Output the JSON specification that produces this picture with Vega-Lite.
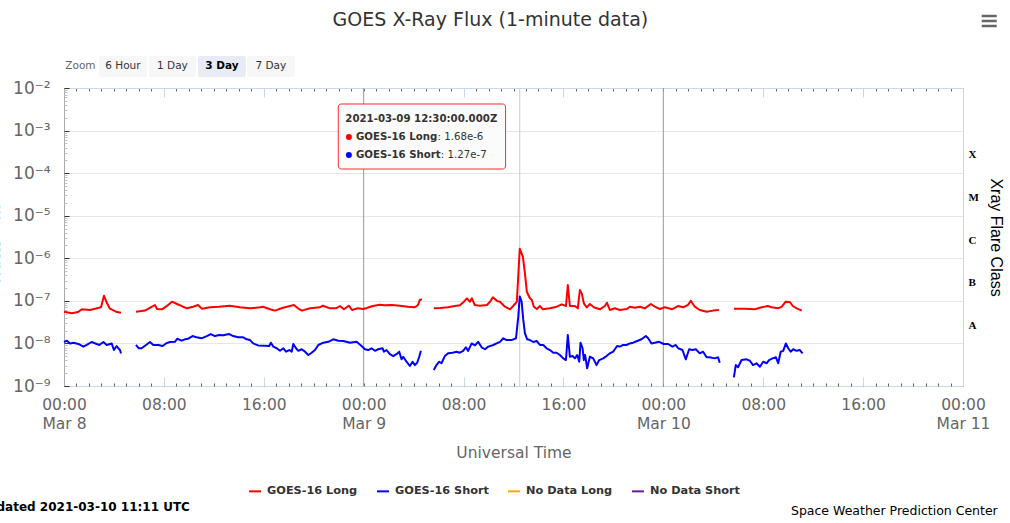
{
"$schema":"https://vega.github.io/schema/vega-lite/v6.json",
"autosize":{"type":"none"},
"width":899,"height":298,
"padding":{"left":64,"top":88,"right":47,"bottom":137},
"background":"#ffffff",
"config":{"view":{"stroke":null},"font":"DejaVu Sans"},
"datasets":{
"flux":[
{"t":"2021-03-08T00:00:00Z","flux":5.56e-8,"series":"GOES-16 Long","seg":1},
{"t":"2021-03-08T00:38:00Z","flux":5.10e-8,"series":"GOES-16 Long","seg":1},
{"t":"2021-03-08T01:07:00Z","flux":5.47e-8,"series":"GOES-16 Long","seg":1},
{"t":"2021-03-08T01:26:00Z","flux":6.33e-8,"series":"GOES-16 Long","seg":1},
{"t":"2021-03-08T02:05:00Z","flux":6.10e-8,"series":"GOES-16 Long","seg":1},
{"t":"2021-03-08T02:43:00Z","flux":6.80e-8,"series":"GOES-16 Long","seg":1},
{"t":"2021-03-08T02:58:00Z","flux":7.05e-8,"series":"GOES-16 Long","seg":1},
{"t":"2021-03-08T03:12:00Z","flux":1.32e-7,"series":"GOES-16 Long","seg":1},
{"t":"2021-03-08T03:27:00Z","flux":8.76e-8,"series":"GOES-16 Long","seg":1},
{"t":"2021-03-08T03:41:00Z","flux":6.54e-8,"series":"GOES-16 Long","seg":1},
{"t":"2021-03-08T04:10:00Z","flux":5.56e-8,"series":"GOES-16 Long","seg":1},
{"t":"2021-03-08T04:34:00Z","flux":5.27e-8,"series":"GOES-16 Long","seg":1},
{"t":"2021-03-08T05:46:00Z","flux":5.56e-8,"series":"GOES-16 Long","seg":2},
{"t":"2021-03-08T06:29:00Z","flux":5.90e-8,"series":"GOES-16 Long","seg":2},
{"t":"2021-03-08T07:03:00Z","flux":7.29e-8,"series":"GOES-16 Long","seg":2},
{"t":"2021-03-08T07:17:00Z","flux":7.99e-8,"series":"GOES-16 Long","seg":2},
{"t":"2021-03-08T07:27:00Z","flux":6.43e-8,"series":"GOES-16 Long","seg":2},
{"t":"2021-03-08T07:51:00Z","flux":6.33e-8,"series":"GOES-16 Long","seg":2},
{"t":"2021-03-08T08:10:00Z","flux":7.29e-8,"series":"GOES-16 Long","seg":2},
{"t":"2021-03-08T08:39:00Z","flux":9.55e-8,"series":"GOES-16 Long","seg":2},
{"t":"2021-03-08T09:03:00Z","flux":8.43e-8,"series":"GOES-16 Long","seg":2},
{"t":"2021-03-08T09:32:00Z","flux":7.29e-8,"series":"GOES-16 Long","seg":2},
{"t":"2021-03-08T09:51:00Z","flux":6.68e-8,"series":"GOES-16 Long","seg":2},
{"t":"2021-03-08T10:20:00Z","flux":7.29e-8,"series":"GOES-16 Long","seg":2},
{"t":"2021-03-08T10:44:00Z","flux":7.99e-8,"series":"GOES-16 Long","seg":2},
{"t":"2021-03-08T11:03:00Z","flux":6.54e-8,"series":"GOES-16 Long","seg":2},
{"t":"2021-03-08T11:41:00Z","flux":7.05e-8,"series":"GOES-16 Long","seg":2},
{"t":"2021-03-08T12:25:00Z","flux":7.29e-8,"series":"GOES-16 Long","seg":2},
{"t":"2021-03-08T13:17:00Z","flux":7.69e-8,"series":"GOES-16 Long","seg":2},
{"t":"2021-03-08T14:05:00Z","flux":7.05e-8,"series":"GOES-16 Long","seg":2},
{"t":"2021-03-08T14:54:00Z","flux":6.68e-8,"series":"GOES-16 Long","seg":2},
{"t":"2021-03-08T15:42:00Z","flux":7.05e-8,"series":"GOES-16 Long","seg":2},
{"t":"2021-03-08T15:56:00Z","flux":7.29e-8,"series":"GOES-16 Long","seg":2},
{"t":"2021-03-08T16:30:00Z","flux":6.33e-8,"series":"GOES-16 Long","seg":2},
{"t":"2021-03-08T16:54:00Z","flux":5.90e-8,"series":"GOES-16 Long","seg":2},
{"t":"2021-03-08T17:32:00Z","flux":6.90e-8,"series":"GOES-16 Long","seg":2},
{"t":"2021-03-08T18:25:00Z","flux":7.99e-8,"series":"GOES-16 Long","seg":2},
{"t":"2021-03-08T18:44:00Z","flux":6.68e-8,"series":"GOES-16 Long","seg":2},
{"t":"2021-03-08T19:03:00Z","flux":5.90e-8,"series":"GOES-16 Long","seg":2},
{"t":"2021-03-08T19:42:00Z","flux":6.68e-8,"series":"GOES-16 Long","seg":2},
{"t":"2021-03-08T20:30:00Z","flux":7.05e-8,"series":"GOES-16 Long","seg":2},
{"t":"2021-03-08T20:44:00Z","flux":7.69e-8,"series":"GOES-16 Long","seg":2},
{"t":"2021-03-08T21:18:00Z","flux":6.68e-8,"series":"GOES-16 Long","seg":2},
{"t":"2021-03-08T21:47:00Z","flux":6.68e-8,"series":"GOES-16 Long","seg":2},
{"t":"2021-03-08T22:06:00Z","flux":7.57e-8,"series":"GOES-16 Long","seg":2},
{"t":"2021-03-08T22:25:00Z","flux":6.33e-8,"series":"GOES-16 Long","seg":2},
{"t":"2021-03-08T22:49:00Z","flux":7.69e-8,"series":"GOES-16 Long","seg":2},
{"t":"2021-03-08T23:04:00Z","flux":6.10e-8,"series":"GOES-16 Long","seg":2},
{"t":"2021-03-08T23:32:00Z","flux":6.68e-8,"series":"GOES-16 Long","seg":2},
{"t":"2021-03-08T23:56:00Z","flux":6.43e-8,"series":"GOES-16 Long","seg":2},
{"t":"2021-03-09T00:11:00Z","flux":6.68e-8,"series":"GOES-16 Long","seg":2},
{"t":"2021-03-09T00:44:00Z","flux":7.57e-8,"series":"GOES-16 Long","seg":2},
{"t":"2021-03-09T01:18:00Z","flux":8.12e-8,"series":"GOES-16 Long","seg":2},
{"t":"2021-03-09T01:42:00Z","flux":7.90e-8,"series":"GOES-16 Long","seg":2},
{"t":"2021-03-09T02:16:00Z","flux":7.99e-8,"series":"GOES-16 Long","seg":2},
{"t":"2021-03-09T02:54:00Z","flux":7.69e-8,"series":"GOES-16 Long","seg":2},
{"t":"2021-03-09T03:33:00Z","flux":7.29e-8,"series":"GOES-16 Long","seg":2},
{"t":"2021-03-09T04:06:00Z","flux":7.05e-8,"series":"GOES-16 Long","seg":2},
{"t":"2021-03-09T04:21:00Z","flux":7.99e-8,"series":"GOES-16 Long","seg":2},
{"t":"2021-03-09T04:30:00Z","flux":1.05e-7,"series":"GOES-16 Long","seg":2},
{"t":"2021-03-09T04:40:00Z","flux":1.10e-7,"series":"GOES-16 Long","seg":2},
{"t":"2021-03-09T05:37:00Z","flux":6.68e-8,"series":"GOES-16 Long","seg":3},
{"t":"2021-03-09T06:06:00Z","flux":6.80e-8,"series":"GOES-16 Long","seg":3},
{"t":"2021-03-09T06:45:00Z","flux":7.05e-8,"series":"GOES-16 Long","seg":3},
{"t":"2021-03-09T07:18:00Z","flux":7.57e-8,"series":"GOES-16 Long","seg":3},
{"t":"2021-03-09T07:42:00Z","flux":7.90e-8,"series":"GOES-16 Long","seg":3},
{"t":"2021-03-09T08:02:00Z","flux":9.55e-8,"series":"GOES-16 Long","seg":3},
{"t":"2021-03-09T08:16:00Z","flux":1.15e-7,"series":"GOES-16 Long","seg":3},
{"t":"2021-03-09T08:30:00Z","flux":9.55e-8,"series":"GOES-16 Long","seg":3},
{"t":"2021-03-09T08:40:00Z","flux":1.15e-7,"series":"GOES-16 Long","seg":3},
{"t":"2021-03-09T08:54:00Z","flux":7.99e-8,"series":"GOES-16 Long","seg":3},
{"t":"2021-03-09T09:18:00Z","flux":7.69e-8,"series":"GOES-16 Long","seg":3},
{"t":"2021-03-09T09:52:00Z","flux":7.99e-8,"series":"GOES-16 Long","seg":3},
{"t":"2021-03-09T10:07:00Z","flux":9.55e-8,"series":"GOES-16 Long","seg":3},
{"t":"2021-03-09T10:21:00Z","flux":1.21e-7,"series":"GOES-16 Long","seg":3},
{"t":"2021-03-09T10:40:00Z","flux":1.00e-7,"series":"GOES-16 Long","seg":3},
{"t":"2021-03-09T10:55:00Z","flux":9.55e-8,"series":"GOES-16 Long","seg":3},
{"t":"2021-03-09T11:19:00Z","flux":7.29e-8,"series":"GOES-16 Long","seg":3},
{"t":"2021-03-09T11:43:00Z","flux":6.33e-8,"series":"GOES-16 Long","seg":3},
{"t":"2021-03-09T12:07:00Z","flux":8.43e-8,"series":"GOES-16 Long","seg":3},
{"t":"2021-03-09T12:16:00Z","flux":9.55e-8,"series":"GOES-16 Long","seg":3},
{"t":"2021-03-09T12:30:00Z","flux":1.68e-6,"series":"GOES-16 Long","seg":3},
{"t":"2021-03-09T12:45:00Z","flux":1.09e-6,"series":"GOES-16 Long","seg":3},
{"t":"2021-03-09T12:55:00Z","flux":4.44e-7,"series":"GOES-16 Long","seg":3},
{"t":"2021-03-09T13:04:00Z","flux":1.64e-7,"series":"GOES-16 Long","seg":3},
{"t":"2021-03-09T13:19:00Z","flux":1.15e-7,"series":"GOES-16 Long","seg":3},
{"t":"2021-03-09T13:28:00Z","flux":1.05e-7,"series":"GOES-16 Long","seg":3},
{"t":"2021-03-09T13:38:00Z","flux":7.29e-8,"series":"GOES-16 Long","seg":3},
{"t":"2021-03-09T13:52:00Z","flux":6.43e-8,"series":"GOES-16 Long","seg":3},
{"t":"2021-03-09T14:07:00Z","flux":7.57e-8,"series":"GOES-16 Long","seg":3},
{"t":"2021-03-09T14:21:00Z","flux":6.33e-8,"series":"GOES-16 Long","seg":3},
{"t":"2021-03-09T14:55:00Z","flux":6.68e-8,"series":"GOES-16 Long","seg":3},
{"t":"2021-03-09T15:28:00Z","flux":7.29e-8,"series":"GOES-16 Long","seg":3},
{"t":"2021-03-09T15:52:00Z","flux":8.30e-8,"series":"GOES-16 Long","seg":3},
{"t":"2021-03-09T16:12:00Z","flux":7.57e-8,"series":"GOES-16 Long","seg":3},
{"t":"2021-03-09T16:21:00Z","flux":2.36e-7,"series":"GOES-16 Long","seg":3},
{"t":"2021-03-09T16:31:00Z","flux":7.57e-8,"series":"GOES-16 Long","seg":3},
{"t":"2021-03-09T16:55:00Z","flux":7.57e-8,"series":"GOES-16 Long","seg":3},
{"t":"2021-03-09T17:09:00Z","flux":6.68e-8,"series":"GOES-16 Long","seg":3},
{"t":"2021-03-09T17:19:00Z","flux":1.80e-7,"series":"GOES-16 Long","seg":3},
{"t":"2021-03-09T17:28:00Z","flux":1.50e-7,"series":"GOES-16 Long","seg":3},
{"t":"2021-03-09T17:38:00Z","flux":8.76e-8,"series":"GOES-16 Long","seg":3},
{"t":"2021-03-09T17:52:00Z","flux":7.05e-8,"series":"GOES-16 Long","seg":3},
{"t":"2021-03-09T18:07:00Z","flux":8.43e-8,"series":"GOES-16 Long","seg":3},
{"t":"2021-03-09T18:26:00Z","flux":7.05e-8,"series":"GOES-16 Long","seg":3},
{"t":"2021-03-09T18:55:00Z","flux":6.33e-8,"series":"GOES-16 Long","seg":3},
{"t":"2021-03-09T19:19:00Z","flux":7.57e-8,"series":"GOES-16 Long","seg":3},
{"t":"2021-03-09T19:29:00Z","flux":9.05e-8,"series":"GOES-16 Long","seg":3},
{"t":"2021-03-09T19:43:00Z","flux":6.10e-8,"series":"GOES-16 Long","seg":3},
{"t":"2021-03-09T20:07:00Z","flux":6.68e-8,"series":"GOES-16 Long","seg":3},
{"t":"2021-03-09T20:31:00Z","flux":6.10e-8,"series":"GOES-16 Long","seg":3},
{"t":"2021-03-09T21:05:00Z","flux":6.43e-8,"series":"GOES-16 Long","seg":3},
{"t":"2021-03-09T21:19:00Z","flux":7.29e-8,"series":"GOES-16 Long","seg":3},
{"t":"2021-03-09T21:43:00Z","flux":6.90e-8,"series":"GOES-16 Long","seg":3},
{"t":"2021-03-09T22:07:00Z","flux":7.29e-8,"series":"GOES-16 Long","seg":3},
{"t":"2021-03-09T22:31:00Z","flux":6.68e-8,"series":"GOES-16 Long","seg":3},
{"t":"2021-03-09T23:00:00Z","flux":8.43e-8,"series":"GOES-16 Long","seg":3},
{"t":"2021-03-09T23:19:00Z","flux":7.29e-8,"series":"GOES-16 Long","seg":3},
{"t":"2021-03-09T23:43:00Z","flux":6.43e-8,"series":"GOES-16 Long","seg":3},
{"t":"2021-03-10T00:07:00Z","flux":7.05e-8,"series":"GOES-16 Long","seg":3},
{"t":"2021-03-10T00:41:00Z","flux":6.33e-8,"series":"GOES-16 Long","seg":3},
{"t":"2021-03-10T01:10:00Z","flux":7.57e-8,"series":"GOES-16 Long","seg":3},
{"t":"2021-03-10T01:34:00Z","flux":7.05e-8,"series":"GOES-16 Long","seg":3},
{"t":"2021-03-10T01:58:00Z","flux":7.99e-8,"series":"GOES-16 Long","seg":3},
{"t":"2021-03-10T02:12:00Z","flux":1.00e-7,"series":"GOES-16 Long","seg":3},
{"t":"2021-03-10T02:31:00Z","flux":7.29e-8,"series":"GOES-16 Long","seg":3},
{"t":"2021-03-10T02:55:00Z","flux":6.10e-8,"series":"GOES-16 Long","seg":3},
{"t":"2021-03-10T03:29:00Z","flux":5.56e-8,"series":"GOES-16 Long","seg":3},
{"t":"2021-03-10T03:58:00Z","flux":5.90e-8,"series":"GOES-16 Long","seg":3},
{"t":"2021-03-10T04:27:00Z","flux":6.10e-8,"series":"GOES-16 Long","seg":3},
{"t":"2021-03-10T05:39:00Z","flux":6.54e-8,"series":"GOES-16 Long","seg":4},
{"t":"2021-03-10T06:32:00Z","flux":6.54e-8,"series":"GOES-16 Long","seg":4},
{"t":"2021-03-10T07:20:00Z","flux":6.33e-8,"series":"GOES-16 Long","seg":4},
{"t":"2021-03-10T07:53:00Z","flux":7.05e-8,"series":"GOES-16 Long","seg":4},
{"t":"2021-03-10T08:22:00Z","flux":7.57e-8,"series":"GOES-16 Long","seg":4},
{"t":"2021-03-10T08:41:00Z","flux":7.05e-8,"series":"GOES-16 Long","seg":4},
{"t":"2021-03-10T09:10:00Z","flux":6.68e-8,"series":"GOES-16 Long","seg":4},
{"t":"2021-03-10T09:29:00Z","flux":7.29e-8,"series":"GOES-16 Long","seg":4},
{"t":"2021-03-10T09:48:00Z","flux":9.55e-8,"series":"GOES-16 Long","seg":4},
{"t":"2021-03-10T10:08:00Z","flux":9.40e-8,"series":"GOES-16 Long","seg":4},
{"t":"2021-03-10T10:22:00Z","flux":7.57e-8,"series":"GOES-16 Long","seg":4},
{"t":"2021-03-10T10:41:00Z","flux":6.68e-8,"series":"GOES-16 Long","seg":4},
{"t":"2021-03-10T11:05:00Z","flux":5.90e-8,"series":"GOES-16 Long","seg":4},
{"t":"2021-03-08T00:00:00Z","flux":1.08e-8,"series":"GOES-16 Short","seg":1},
{"t":"2021-03-08T00:14:00Z","flux":1.16e-8,"series":"GOES-16 Short","seg":1},
{"t":"2021-03-08T00:29:00Z","flux":1.00e-8,"series":"GOES-16 Short","seg":1},
{"t":"2021-03-08T00:45:00Z","flux":1.04e-8,"series":"GOES-16 Short","seg":1},
{"t":"2021-03-08T01:09:00Z","flux":9.7e-9,"series":"GOES-16 Short","seg":1},
{"t":"2021-03-08T01:33:00Z","flux":8.4e-9,"series":"GOES-16 Short","seg":1},
{"t":"2021-03-08T01:49:00Z","flux":9.2e-9,"series":"GOES-16 Short","seg":1},
{"t":"2021-03-08T02:13:00Z","flux":1.08e-8,"series":"GOES-16 Short","seg":1},
{"t":"2021-03-08T02:37:00Z","flux":9.7e-9,"series":"GOES-16 Short","seg":1},
{"t":"2021-03-08T02:50:00Z","flux":9.2e-9,"series":"GOES-16 Short","seg":1},
{"t":"2021-03-08T03:09:00Z","flux":1.08e-8,"series":"GOES-16 Short","seg":1},
{"t":"2021-03-08T03:25:00Z","flux":9.2e-9,"series":"GOES-16 Short","seg":1},
{"t":"2021-03-08T03:49:00Z","flux":1.00e-8,"series":"GOES-16 Short","seg":1},
{"t":"2021-03-08T04:00:00Z","flux":7.0e-9,"series":"GOES-16 Short","seg":1},
{"t":"2021-03-08T04:13:00Z","flux":8.7e-9,"series":"GOES-16 Short","seg":1},
{"t":"2021-03-08T04:21:00Z","flux":7.7e-9,"series":"GOES-16 Short","seg":1},
{"t":"2021-03-08T04:29:00Z","flux":7.0e-9,"series":"GOES-16 Short","seg":1},
{"t":"2021-03-08T04:34:00Z","flux":5.85e-9,"series":"GOES-16 Short","seg":1},
{"t":"2021-03-08T05:46:00Z","flux":9.2e-9,"series":"GOES-16 Short","seg":2},
{"t":"2021-03-08T05:59:00Z","flux":7.7e-9,"series":"GOES-16 Short","seg":2},
{"t":"2021-03-08T06:13:00Z","flux":7.7e-9,"series":"GOES-16 Short","seg":2},
{"t":"2021-03-08T06:34:00Z","flux":9.2e-9,"series":"GOES-16 Short","seg":2},
{"t":"2021-03-08T06:53:00Z","flux":1.08e-8,"series":"GOES-16 Short","seg":2},
{"t":"2021-03-08T07:09:00Z","flux":9.2e-9,"series":"GOES-16 Short","seg":2},
{"t":"2021-03-08T07:33:00Z","flux":9.2e-9,"series":"GOES-16 Short","seg":2},
{"t":"2021-03-08T07:54:00Z","flux":8.7e-9,"series":"GOES-16 Short","seg":2},
{"t":"2021-03-08T08:10:00Z","flux":1.00e-8,"series":"GOES-16 Short","seg":2},
{"t":"2021-03-08T08:29:00Z","flux":1.08e-8,"series":"GOES-16 Short","seg":2},
{"t":"2021-03-08T08:53:00Z","flux":1.09e-8,"series":"GOES-16 Short","seg":2},
{"t":"2021-03-08T09:04:00Z","flux":1.29e-8,"series":"GOES-16 Short","seg":2},
{"t":"2021-03-08T09:25:00Z","flux":1.16e-8,"series":"GOES-16 Short","seg":2},
{"t":"2021-03-08T09:41:00Z","flux":1.25e-8,"series":"GOES-16 Short","seg":2},
{"t":"2021-03-08T09:57:00Z","flux":1.29e-8,"series":"GOES-16 Short","seg":2},
{"t":"2021-03-08T10:18:00Z","flux":1.49e-8,"series":"GOES-16 Short","seg":2},
{"t":"2021-03-08T10:37:00Z","flux":1.39e-8,"series":"GOES-16 Short","seg":2},
{"t":"2021-03-08T11:01:00Z","flux":1.32e-8,"series":"GOES-16 Short","seg":2},
{"t":"2021-03-08T11:26:00Z","flux":1.49e-8,"series":"GOES-16 Short","seg":2},
{"t":"2021-03-08T11:45:00Z","flux":1.66e-8,"series":"GOES-16 Short","seg":2},
{"t":"2021-03-08T12:05:00Z","flux":1.49e-8,"series":"GOES-16 Short","seg":2},
{"t":"2021-03-08T12:26:00Z","flux":1.57e-8,"series":"GOES-16 Short","seg":2},
{"t":"2021-03-08T12:45:00Z","flux":1.55e-8,"series":"GOES-16 Short","seg":2},
{"t":"2021-03-08T13:14:00Z","flux":1.66e-8,"series":"GOES-16 Short","seg":2},
{"t":"2021-03-08T13:33:00Z","flux":1.49e-8,"series":"GOES-16 Short","seg":2},
{"t":"2021-03-08T13:57:00Z","flux":1.39e-8,"series":"GOES-16 Short","seg":2},
{"t":"2021-03-08T14:21:00Z","flux":1.39e-8,"series":"GOES-16 Short","seg":2},
{"t":"2021-03-08T14:38:00Z","flux":1.25e-8,"series":"GOES-16 Short","seg":2},
{"t":"2021-03-08T14:54:00Z","flux":1.20e-8,"series":"GOES-16 Short","seg":2},
{"t":"2021-03-08T15:09:00Z","flux":1.00e-8,"series":"GOES-16 Short","seg":2},
{"t":"2021-03-08T15:33:00Z","flux":9.0e-9,"series":"GOES-16 Short","seg":2},
{"t":"2021-03-08T16:06:00Z","flux":8.8e-9,"series":"GOES-16 Short","seg":2},
{"t":"2021-03-08T16:26:00Z","flux":8.7e-9,"series":"GOES-16 Short","seg":2},
{"t":"2021-03-08T16:34:00Z","flux":1.04e-8,"series":"GOES-16 Short","seg":2},
{"t":"2021-03-08T16:46:00Z","flux":8.4e-9,"series":"GOES-16 Short","seg":2},
{"t":"2021-03-08T17:02:00Z","flux":7.7e-9,"series":"GOES-16 Short","seg":2},
{"t":"2021-03-08T17:18:00Z","flux":6.7e-9,"series":"GOES-16 Short","seg":2},
{"t":"2021-03-08T17:34:00Z","flux":7.7e-9,"series":"GOES-16 Short","seg":2},
{"t":"2021-03-08T17:47:00Z","flux":6.4e-9,"series":"GOES-16 Short","seg":2},
{"t":"2021-03-08T18:03:00Z","flux":7.0e-9,"series":"GOES-16 Short","seg":2},
{"t":"2021-03-08T18:14:00Z","flux":6.4e-9,"series":"GOES-16 Short","seg":2},
{"t":"2021-03-08T18:22:00Z","flux":9.7e-9,"series":"GOES-16 Short","seg":2},
{"t":"2021-03-08T18:35:00Z","flux":7.7e-9,"series":"GOES-16 Short","seg":2},
{"t":"2021-03-08T18:46:00Z","flux":6.7e-9,"series":"GOES-16 Short","seg":2},
{"t":"2021-03-08T19:02:00Z","flux":7.3e-9,"series":"GOES-16 Short","seg":2},
{"t":"2021-03-08T19:18:00Z","flux":6.4e-9,"series":"GOES-16 Short","seg":2},
{"t":"2021-03-08T19:34:00Z","flux":5.35e-9,"series":"GOES-16 Short","seg":2},
{"t":"2021-03-08T19:50:00Z","flux":6.05e-9,"series":"GOES-16 Short","seg":2},
{"t":"2021-03-08T20:06:00Z","flux":7.0e-9,"series":"GOES-16 Short","seg":2},
{"t":"2021-03-08T20:22:00Z","flux":9.2e-9,"series":"GOES-16 Short","seg":2},
{"t":"2021-03-08T20:46:00Z","flux":1.04e-8,"series":"GOES-16 Short","seg":2},
{"t":"2021-03-08T21:10:00Z","flux":1.09e-8,"series":"GOES-16 Short","seg":2},
{"t":"2021-03-08T21:34:00Z","flux":1.25e-8,"series":"GOES-16 Short","seg":2},
{"t":"2021-03-08T21:58:00Z","flux":1.16e-8,"series":"GOES-16 Short","seg":2},
{"t":"2021-03-08T22:22:00Z","flux":1.14e-8,"series":"GOES-16 Short","seg":2},
{"t":"2021-03-08T22:54:00Z","flux":1.04e-8,"series":"GOES-16 Short","seg":2},
{"t":"2021-03-08T23:26:00Z","flux":1.09e-8,"series":"GOES-16 Short","seg":2},
{"t":"2021-03-08T23:50:00Z","flux":8.7e-9,"series":"GOES-16 Short","seg":2},
{"t":"2021-03-09T00:06:00Z","flux":7.3e-9,"series":"GOES-16 Short","seg":2},
{"t":"2021-03-09T00:22:00Z","flux":7.0e-9,"series":"GOES-16 Short","seg":2},
{"t":"2021-03-09T00:38:00Z","flux":7.7e-9,"series":"GOES-16 Short","seg":2},
{"t":"2021-03-09T00:54:00Z","flux":6.7e-9,"series":"GOES-16 Short","seg":2},
{"t":"2021-03-09T01:10:00Z","flux":7.3e-9,"series":"GOES-16 Short","seg":2},
{"t":"2021-03-09T01:31:00Z","flux":7.7e-9,"series":"GOES-16 Short","seg":2},
{"t":"2021-03-09T01:37:00Z","flux":6.4e-9,"series":"GOES-16 Short","seg":2},
{"t":"2021-03-09T01:50:00Z","flux":7.0e-9,"series":"GOES-16 Short","seg":2},
{"t":"2021-03-09T02:06:00Z","flux":5.6e-9,"series":"GOES-16 Short","seg":2},
{"t":"2021-03-09T02:22:00Z","flux":5.05e-9,"series":"GOES-16 Short","seg":2},
{"t":"2021-03-09T02:38:00Z","flux":5.6e-9,"series":"GOES-16 Short","seg":2},
{"t":"2021-03-09T02:51:00Z","flux":6.4e-9,"series":"GOES-16 Short","seg":2},
{"t":"2021-03-09T03:02:00Z","flux":4.23e-9,"series":"GOES-16 Short","seg":2},
{"t":"2021-03-09T03:10:00Z","flux":4.87e-9,"series":"GOES-16 Short","seg":2},
{"t":"2021-03-09T03:26:00Z","flux":3.72e-9,"series":"GOES-16 Short","seg":2},
{"t":"2021-03-09T03:42:00Z","flux":2.95e-9,"series":"GOES-16 Short","seg":2},
{"t":"2021-03-09T03:55:00Z","flux":3.72e-9,"series":"GOES-16 Short","seg":2},
{"t":"2021-03-09T04:06:00Z","flux":3.10e-9,"series":"GOES-16 Short","seg":2},
{"t":"2021-03-09T04:17:00Z","flux":3.52e-9,"series":"GOES-16 Short","seg":2},
{"t":"2021-03-09T04:27:00Z","flux":4.87e-9,"series":"GOES-16 Short","seg":2},
{"t":"2021-03-09T04:35:00Z","flux":6.7e-9,"series":"GOES-16 Short","seg":2},
{"t":"2021-03-09T05:37:00Z","flux":2.37e-9,"series":"GOES-16 Short","seg":3},
{"t":"2021-03-09T05:50:00Z","flux":3.10e-9,"series":"GOES-16 Short","seg":3},
{"t":"2021-03-09T06:03:00Z","flux":3.72e-9,"series":"GOES-16 Short","seg":3},
{"t":"2021-03-09T06:14:00Z","flux":3.42e-9,"series":"GOES-16 Short","seg":3},
{"t":"2021-03-09T06:30:00Z","flux":5.05e-9,"series":"GOES-16 Short","seg":3},
{"t":"2021-03-09T06:46:00Z","flux":5.85e-9,"series":"GOES-16 Short","seg":3},
{"t":"2021-03-09T07:07:00Z","flux":6.05e-9,"series":"GOES-16 Short","seg":3},
{"t":"2021-03-09T07:27:00Z","flux":6.4e-9,"series":"GOES-16 Short","seg":3},
{"t":"2021-03-09T07:42:00Z","flux":6.05e-9,"series":"GOES-16 Short","seg":3},
{"t":"2021-03-09T07:58:00Z","flux":6.7e-9,"series":"GOES-16 Short","seg":3},
{"t":"2021-03-09T08:11:00Z","flux":8.1e-9,"series":"GOES-16 Short","seg":3},
{"t":"2021-03-09T08:22:00Z","flux":6.7e-9,"series":"GOES-16 Short","seg":3},
{"t":"2021-03-09T08:39:00Z","flux":1.00e-8,"series":"GOES-16 Short","seg":3},
{"t":"2021-03-09T08:55:00Z","flux":9.0e-9,"series":"GOES-16 Short","seg":3},
{"t":"2021-03-09T09:10:00Z","flux":1.09e-8,"series":"GOES-16 Short","seg":3},
{"t":"2021-03-09T09:27:00Z","flux":8.1e-9,"series":"GOES-16 Short","seg":3},
{"t":"2021-03-09T09:43:00Z","flux":7.3e-9,"series":"GOES-16 Short","seg":3},
{"t":"2021-03-09T09:59:00Z","flux":8.4e-9,"series":"GOES-16 Short","seg":3},
{"t":"2021-03-09T10:23:00Z","flux":9.2e-9,"series":"GOES-16 Short","seg":3},
{"t":"2021-03-09T10:39:00Z","flux":1.00e-8,"series":"GOES-16 Short","seg":3},
{"t":"2021-03-09T10:55:00Z","flux":1.09e-8,"series":"GOES-16 Short","seg":3},
{"t":"2021-03-09T11:11:00Z","flux":1.32e-8,"series":"GOES-16 Short","seg":3},
{"t":"2021-03-09T11:27:00Z","flux":1.20e-8,"series":"GOES-16 Short","seg":3},
{"t":"2021-03-09T11:51:00Z","flux":1.20e-8,"series":"GOES-16 Short","seg":3},
{"t":"2021-03-09T12:12:00Z","flux":1.32e-8,"series":"GOES-16 Short","seg":3},
{"t":"2021-03-09T12:23:00Z","flux":4.25e-8,"series":"GOES-16 Short","seg":3},
{"t":"2021-03-09T12:30:00Z","flux":1.27e-7,"series":"GOES-16 Short","seg":3},
{"t":"2021-03-09T12:39:00Z","flux":9.55e-8,"series":"GOES-16 Short","seg":3},
{"t":"2021-03-09T12:47:00Z","flux":3.56e-8,"series":"GOES-16 Short","seg":3},
{"t":"2021-03-09T12:55:00Z","flux":1.73e-8,"series":"GOES-16 Short","seg":3},
{"t":"2021-03-09T13:06:00Z","flux":1.25e-8,"series":"GOES-16 Short","seg":3},
{"t":"2021-03-09T13:19:00Z","flux":1.20e-8,"series":"GOES-16 Short","seg":3},
{"t":"2021-03-09T13:35:00Z","flux":1.08e-8,"series":"GOES-16 Short","seg":3},
{"t":"2021-03-09T13:51:00Z","flux":1.14e-8,"series":"GOES-16 Short","seg":3},
{"t":"2021-03-09T14:07:00Z","flux":9.2e-9,"series":"GOES-16 Short","seg":3},
{"t":"2021-03-09T14:23:00Z","flux":9.2e-9,"series":"GOES-16 Short","seg":3},
{"t":"2021-03-09T14:39:00Z","flux":7.7e-9,"series":"GOES-16 Short","seg":3},
{"t":"2021-03-09T14:55:00Z","flux":7.0e-9,"series":"GOES-16 Short","seg":3},
{"t":"2021-03-09T15:11:00Z","flux":6.05e-9,"series":"GOES-16 Short","seg":3},
{"t":"2021-03-09T15:27:00Z","flux":6.05e-9,"series":"GOES-16 Short","seg":3},
{"t":"2021-03-09T15:43:00Z","flux":5.35e-9,"series":"GOES-16 Short","seg":3},
{"t":"2021-03-09T15:59:00Z","flux":4.46e-9,"series":"GOES-16 Short","seg":3},
{"t":"2021-03-09T16:12:00Z","flux":4.07e-9,"series":"GOES-16 Short","seg":3},
{"t":"2021-03-09T16:21:00Z","flux":1.57e-8,"series":"GOES-16 Short","seg":3},
{"t":"2021-03-09T16:31:00Z","flux":4.87e-9,"series":"GOES-16 Short","seg":3},
{"t":"2021-03-09T16:44:00Z","flux":5.05e-9,"series":"GOES-16 Short","seg":3},
{"t":"2021-03-09T16:55:00Z","flux":4.46e-9,"series":"GOES-16 Short","seg":3},
{"t":"2021-03-09T17:06:00Z","flux":5.35e-9,"series":"GOES-16 Short","seg":3},
{"t":"2021-03-09T17:16:00Z","flux":3.72e-9,"series":"GOES-16 Short","seg":3},
{"t":"2021-03-09T17:22:00Z","flux":1.04e-8,"series":"GOES-16 Short","seg":3},
{"t":"2021-03-09T17:32:00Z","flux":7.7e-9,"series":"GOES-16 Short","seg":3},
{"t":"2021-03-09T17:38:00Z","flux":4.07e-9,"series":"GOES-16 Short","seg":3},
{"t":"2021-03-09T17:44:00Z","flux":5.35e-9,"series":"GOES-16 Short","seg":3},
{"t":"2021-03-09T17:54:00Z","flux":2.60e-9,"series":"GOES-16 Short","seg":3},
{"t":"2021-03-09T18:07:00Z","flux":4.87e-9,"series":"GOES-16 Short","seg":3},
{"t":"2021-03-09T18:23:00Z","flux":4.46e-9,"series":"GOES-16 Short","seg":3},
{"t":"2021-03-09T18:39:00Z","flux":3.10e-9,"series":"GOES-16 Short","seg":3},
{"t":"2021-03-09T18:52:00Z","flux":4.07e-9,"series":"GOES-16 Short","seg":3},
{"t":"2021-03-09T19:11:00Z","flux":4.46e-9,"series":"GOES-16 Short","seg":3},
{"t":"2021-03-09T19:27:00Z","flux":5.05e-9,"series":"GOES-16 Short","seg":3},
{"t":"2021-03-09T19:43:00Z","flux":5.85e-9,"series":"GOES-16 Short","seg":3},
{"t":"2021-03-09T19:59:00Z","flux":6.4e-9,"series":"GOES-16 Short","seg":3},
{"t":"2021-03-09T20:18:00Z","flux":8.7e-9,"series":"GOES-16 Short","seg":3},
{"t":"2021-03-09T20:31:00Z","flux":8.4e-9,"series":"GOES-16 Short","seg":3},
{"t":"2021-03-09T20:47:00Z","flux":9.2e-9,"series":"GOES-16 Short","seg":3},
{"t":"2021-03-09T21:03:00Z","flux":9.2e-9,"series":"GOES-16 Short","seg":3},
{"t":"2021-03-09T21:19:00Z","flux":1.00e-8,"series":"GOES-16 Short","seg":3},
{"t":"2021-03-09T21:35:00Z","flux":1.04e-8,"series":"GOES-16 Short","seg":3},
{"t":"2021-03-09T21:54:00Z","flux":1.14e-8,"series":"GOES-16 Short","seg":3},
{"t":"2021-03-09T22:15:00Z","flux":1.25e-8,"series":"GOES-16 Short","seg":3},
{"t":"2021-03-09T22:36:00Z","flux":1.49e-8,"series":"GOES-16 Short","seg":3},
{"t":"2021-03-09T22:47:00Z","flux":1.32e-8,"series":"GOES-16 Short","seg":3},
{"t":"2021-03-09T23:03:00Z","flux":1.00e-8,"series":"GOES-16 Short","seg":3},
{"t":"2021-03-09T23:19:00Z","flux":1.04e-8,"series":"GOES-16 Short","seg":3},
{"t":"2021-03-09T23:40:00Z","flux":1.09e-8,"series":"GOES-16 Short","seg":3},
{"t":"2021-03-10T00:02:00Z","flux":9.7e-9,"series":"GOES-16 Short","seg":3},
{"t":"2021-03-10T00:23:00Z","flux":9.7e-9,"series":"GOES-16 Short","seg":3},
{"t":"2021-03-10T00:44:00Z","flux":8.4e-9,"series":"GOES-16 Short","seg":3},
{"t":"2021-03-10T01:00:00Z","flux":9.2e-9,"series":"GOES-16 Short","seg":3},
{"t":"2021-03-10T01:11:00Z","flux":7.7e-9,"series":"GOES-16 Short","seg":3},
{"t":"2021-03-10T01:32:00Z","flux":7.0e-9,"series":"GOES-16 Short","seg":3},
{"t":"2021-03-10T01:48:00Z","flux":4.23e-9,"series":"GOES-16 Short","seg":3},
{"t":"2021-03-10T02:04:00Z","flux":7.3e-9,"series":"GOES-16 Short","seg":3},
{"t":"2021-03-10T02:20:00Z","flux":7.0e-9,"series":"GOES-16 Short","seg":3},
{"t":"2021-03-10T02:36:00Z","flux":7.3e-9,"series":"GOES-16 Short","seg":3},
{"t":"2021-03-10T02:55:00Z","flux":5.85e-9,"series":"GOES-16 Short","seg":3},
{"t":"2021-03-10T03:11:00Z","flux":6.4e-9,"series":"GOES-16 Short","seg":3},
{"t":"2021-03-10T03:28:00Z","flux":4.72e-9,"series":"GOES-16 Short","seg":3},
{"t":"2021-03-10T03:43:00Z","flux":4.72e-9,"series":"GOES-16 Short","seg":3},
{"t":"2021-03-10T04:07:00Z","flux":4.46e-9,"series":"GOES-16 Short","seg":3},
{"t":"2021-03-10T04:23:00Z","flux":4.72e-9,"series":"GOES-16 Short","seg":3},
{"t":"2021-03-10T04:31:00Z","flux":3.52e-9,"series":"GOES-16 Short","seg":3},
{"t":"2021-03-10T05:39:00Z","flux":1.60e-9,"series":"GOES-16 Short","seg":4},
{"t":"2021-03-10T05:48:00Z","flux":3.10e-9,"series":"GOES-16 Short","seg":4},
{"t":"2021-03-10T05:59:00Z","flux":2.75e-9,"series":"GOES-16 Short","seg":4},
{"t":"2021-03-10T06:16:00Z","flux":4.07e-9,"series":"GOES-16 Short","seg":4},
{"t":"2021-03-10T06:40:00Z","flux":4.23e-9,"series":"GOES-16 Short","seg":4},
{"t":"2021-03-10T06:56:00Z","flux":3.92e-9,"series":"GOES-16 Short","seg":4},
{"t":"2021-03-10T07:11:00Z","flux":3.10e-9,"series":"GOES-16 Short","seg":4},
{"t":"2021-03-10T07:28:00Z","flux":3.42e-9,"series":"GOES-16 Short","seg":4},
{"t":"2021-03-10T07:44:00Z","flux":2.84e-9,"series":"GOES-16 Short","seg":4},
{"t":"2021-03-10T08:00:00Z","flux":3.72e-9,"series":"GOES-16 Short","seg":4},
{"t":"2021-03-10T08:16:00Z","flux":3.42e-9,"series":"GOES-16 Short","seg":4},
{"t":"2021-03-10T08:28:00Z","flux":4.07e-9,"series":"GOES-16 Short","seg":4},
{"t":"2021-03-10T08:45:00Z","flux":4.46e-9,"series":"GOES-16 Short","seg":4},
{"t":"2021-03-10T09:01:00Z","flux":4.72e-9,"series":"GOES-16 Short","seg":4},
{"t":"2021-03-10T09:12:00Z","flux":3.42e-9,"series":"GOES-16 Short","seg":4},
{"t":"2021-03-10T09:24:00Z","flux":6.4e-9,"series":"GOES-16 Short","seg":4},
{"t":"2021-03-10T09:36:00Z","flux":6.7e-9,"series":"GOES-16 Short","seg":4},
{"t":"2021-03-10T09:49:00Z","flux":1.00e-8,"series":"GOES-16 Short","seg":4},
{"t":"2021-03-10T10:00:00Z","flux":7.7e-9,"series":"GOES-16 Short","seg":4},
{"t":"2021-03-10T10:12:00Z","flux":6.4e-9,"series":"GOES-16 Short","seg":4},
{"t":"2021-03-10T10:24:00Z","flux":7.3e-9,"series":"GOES-16 Short","seg":4},
{"t":"2021-03-10T10:40:00Z","flux":6.7e-9,"series":"GOES-16 Short","seg":4},
{"t":"2021-03-10T10:56:00Z","flux":7.0e-9,"series":"GOES-16 Short","seg":4},
{"t":"2021-03-10T11:09:00Z","flux":5.85e-9,"series":"GOES-16 Short","seg":4}
],
"rules":[
{"t":"2021-03-09T00:00:00Z","kind":"day","flux":1e-9,"flux2":1e-2},
{"t":"2021-03-10T00:00:00Z","kind":"day","flux":1e-9,"flux2":1e-2},
{"t":"2021-03-09T12:30:00Z","kind":"hover","flux":1e-9,"flux2":1e-2}
],
"box":[{"t":"2021-03-08T21:58:00Z","t2":"2021-03-09T11:22:00Z","flux":4.21e-3,"flux2":1.25e-4}],
"tipBold":[
{"t":"2021-03-08T22:32:00Z","flux":1.87e-3,"label":"2021-03-09 12:30:00.000Z"},
{"t":"2021-03-08T23:23:00Z","flux":7.06e-4,"label":"GOES-16 Long"},
{"t":"2021-03-08T23:23:00Z","flux":2.67e-4,"label":"GOES-16 Short"}
],
"tipValue":[
{"t":"2021-03-09T05:55:00Z","flux":7.06e-4,"label":": 1.68e-6"},
{"t":"2021-03-09T06:11:00Z","flux":2.67e-4,"label":": 1.27e-7"}
],
"tipDots":[
{"t":"2021-03-08T22:49:00Z","flux":7.06e-4,"series":"GOES-16 Long"},
{"t":"2021-03-08T22:49:00Z","flux":2.67e-4,"series":"GOES-16 Short"}
],
"buttons":[
{"t":"2021-03-08T02:48:00Z","t2":"2021-03-08T06:39:00Z","tm":"2021-03-08T04:43:00Z","flux":5.65e-2,"flux2":1.81e-2,"mid":3.29e-2,"label":"6 Hour","selected":false},
{"t":"2021-03-08T06:48:00Z","t2":"2021-03-08T10:34:00Z","tm":"2021-03-08T08:41:00Z","flux":5.65e-2,"flux2":1.81e-2,"mid":3.29e-2,"label":"1 Day","selected":false},
{"t":"2021-03-08T10:44:00Z","t2":"2021-03-08T14:34:00Z","tm":"2021-03-08T12:39:00Z","flux":5.65e-2,"flux2":1.81e-2,"mid":3.29e-2,"label":"3 Day","selected":true},
{"t":"2021-03-08T14:39:00Z","t2":"2021-03-08T18:30:00Z","tm":"2021-03-08T16:34:00Z","flux":5.65e-2,"flux2":1.81e-2,"mid":3.29e-2,"label":"7 Day","selected":false}
],
"zoomLabel":[{"t":"2021-03-08T01:19:00Z","flux":3.2e-2,"label":"Zoom"}],
"menu":[
{"t":"2021-03-11T01:30:00Z","t2":"2021-03-11T02:42:00Z","flux":0.491},
{"t":"2021-03-11T01:30:00Z","t2":"2021-03-11T02:42:00Z","flux":0.375},
{"t":"2021-03-11T01:30:00Z","t2":"2021-03-11T02:42:00Z","flux":0.286}
],
"heading":[{"t":"2021-03-09T10:09:00Z","flux":0.395,"label":"GOES X-Ray Flux (1-minute data)"}],
"updated":[{"t":"2021-03-08T10:05:00Z","flux":1.44e-12,"label":"Updated 2021-03-10 11:11 UTC"}],
"credit":[{"t":"2021-03-11T02:47:00Z","flux":1.16e-12,"label":"Space Weather Prediction Center"}]
},
"encoding":{
"x":{"field":"t","type":"temporal","scale":{"type":"utc","domain":[{"year":2021,"month":3,"date":8,"utc":true},{"year":2021,"month":3,"date":11,"utc":true}],"nice":false},"axis":null},
"y":{"field":"flux","type":"quantitative","scale":{"type":"log","domain":[1e-9,1e-2],"nice":false},"axis":null}
},
"resolve":{"axis":{"x":"independent","y":"independent"}},
"layer":[
{"data":{"name":"rules"},
 "transform":[{"filter":"datum.kind == 'day'"}],
 "mark":{"type":"rule","strokeWidth":1,"stroke":"#999999"},
 "encoding":{
  "x":{"field":"t","type":"temporal","axis":{"orient":"bottom","offset":-298,"title":null,"labels":false,"grid":false,"domain":true,"domainColor":"#ccd6eb","tickCount":72,"tickColor":"#666666","tickSize":3}},
  "y2":{"field":"flux2"}
 }},
{"data":{"name":"rules"},
 "transform":[{"filter":"datum.kind == 'hover'"}],
 "mark":{"type":"rule","strokeWidth":1,"stroke":"#cccccc"},
 "encoding":{"y2":{"field":"flux2"}}},
{"data":{"name":"flux"},
 "mark":{"type":"line","strokeWidth":2,"strokeJoin":"round"},
 "encoding":{
  "x":{"field":"t","type":"temporal","title":"Universal Time","axis":{"orient":"bottom",
    "values":[{"year":2021,"month":3,"date":8,"hours":0,"utc":true},{"year":2021,"month":3,"date":8,"hours":8,"utc":true},{"year":2021,"month":3,"date":8,"hours":16,"utc":true},{"year":2021,"month":3,"date":9,"hours":0,"utc":true},{"year":2021,"month":3,"date":9,"hours":8,"utc":true},{"year":2021,"month":3,"date":9,"hours":16,"utc":true},{"year":2021,"month":3,"date":10,"hours":0,"utc":true},{"year":2021,"month":3,"date":10,"hours":8,"utc":true},{"year":2021,"month":3,"date":10,"hours":16,"utc":true},{"year":2021,"month":3,"date":11,"hours":0,"utc":true}],
    "labelExpr":"utchours(datum.value)==0 ? [utcFormat(datum.value,'%H:%M'), utcFormat(datum.value,'%b %-d')] : utcFormat(datum.value,'%H:%M')",
    "labelOverlap":false,"labelFlush":false,"labelBound":false,"labelFont":"DejaVu Sans","labelFontSize":15.5,"labelColor":"#666666","labelLineHeight":19,"labelPadding":11,"labelBaseline":"top",
    "ticks":false,
    "domainColor":"#ccd6eb","grid":false,"titleFont":"DejaVu Sans","titleFontSize":15.5,"titleFontWeight":"normal","titleColor":"#666666","titlePadding":14}},
  "y":{"field":"flux","type":"quantitative","title":"Watts • m⁻²","axis":{"orient":"left",
    "values":[1e-9,1e-8,1e-7,1e-6,1e-5,1e-4,1e-3,1e-2],
    "labelExpr":"'10' + ['⁻⁹','⁻⁸','⁻⁷','⁻⁶','⁻⁵','⁻⁴','⁻³','⁻²'][round(log(datum.value)/LN10)+9]",
    "labelOverlap":false,"labelFont":"DejaVu Sans","labelFontSize":17,"labelColor":"#666666","labelPadding":14,"labelBound":false,
    "grid":true,"gridColor":"#e6e6e6","ticks":false,
    "domainColor":"#aaaaaa",
    "titleColor":"#3355cc","titleFont":"DejaVu Sans","titleFontSize":16,"titleFontWeight":"normal","titleX":-65,"titleY":149,"titleAngle":270,"titleBaseline":"alphabetic","titleAlign":"center"}},
  "color":{"field":"series","type":"nominal","scale":{"domain":["GOES-16 Long","GOES-16 Short","No Data Long","No Data Short"],"range":["#ff0000","#0000ff","#ffa500","#6a1b9a"]},
    "legend":{"orient":"none","direction":"horizontal","legendX":184,"legendY":396,"title":null,"symbolType":"stroke","symbolStrokeWidth":2,"symbolSize":144,"labelFont":"DejaVu Sans","labelFontSize":11.3,"labelFontWeight":"bold","labelColor":"#333333","columnPadding":15,"labelOffset":5,"padding":0}},
  "detail":{"field":"seg","type":"nominal"}
 }},
{"data":{"name":"box"},
 "mark":{"type":"rect","fill":"#fbfbfb","fillOpacity":0.95,"stroke":"#ff2a2a","strokeWidth":1,"cornerRadius":3},
 "encoding":{
  "x2":{"field":"t2"},
  "y":{"field":"flux","type":"quantitative","title":"Xray Flare Class","axis":{"orient":"right","values":[3.162e-4,3.162e-5,3.162e-6,3.162e-7,3.162e-8],
    "labelExpr":"datum.value > 1e-4 ? 'X' : datum.value > 1e-5 ? 'M' : datum.value > 1e-6 ? 'C' : datum.value > 1e-7 ? 'B' : 'A'",
    "ticks":false,"grid":false,"domainColor":"#ccd6eb","labelPadding":5,"labelOffset":3,"labelFont":"Liberation Serif","labelFontWeight":"bold","labelFontSize":11,"labelColor":"#000000","labelOverlap":false,
    "titleFont":"Liberation Sans","titleFontSize":16,"titleFontWeight":"normal","titleColor":"#000000","titlePadding":9,"titleAngle":90}},
  "y2":{"field":"flux2"}
 }},
{"data":{"name":"tipDots"},
 "mark":{"type":"point","filled":true,"size":36,"opacity":1},
 "encoding":{
  "x":{"field":"t","type":"temporal","axis":{"orient":"bottom","offset":-298,"title":null,"labels":false,"grid":false,"domain":false,
    "values":[{"year":2021,"month":3,"date":8,"hours":8,"utc":true},{"year":2021,"month":3,"date":8,"hours":16,"utc":true},{"year":2021,"month":3,"date":9,"hours":8,"utc":true},{"year":2021,"month":3,"date":9,"hours":16,"utc":true},{"year":2021,"month":3,"date":10,"hours":8,"utc":true},{"year":2021,"month":3,"date":10,"hours":16,"utc":true}],
    "tickColor":"#ccd6eb","tickSize":9}},
  "y":{"field":"flux","type":"quantitative","axis":{"orient":"right","offset":-899,"title":null,"labels":false,"grid":false,"domain":false,
    "values":[2e-9,3e-9,4e-9,5e-9,6e-9,7e-9,8e-9,9e-9,2e-8,3e-8,4e-8,5e-8,6e-8,7e-8,8e-8,9e-8,2e-7,3e-7,4e-7,5e-7,6e-7,7e-7,8e-7,9e-7,2e-6,3e-6,4e-6,5e-6,6e-6,7e-6,8e-6,9e-6,2e-5,3e-5,4e-5,5e-5,6e-5,7e-5,8e-5,9e-5,2e-4,3e-4,4e-4,5e-4,6e-4,7e-4,8e-4,9e-4,2e-3,3e-3,4e-3,5e-3,6e-3,7e-3,8e-3,9e-3],
    "tickColor":"#c0c0c0","tickSize":3}},
  "fill":{"field":"series","type":"nominal","scale":{"domain":["GOES-16 Long","GOES-16 Short"],"range":["#ff0000","#0000ff"]},"legend":null}}},
{"data":{"name":"tipBold"},
 "mark":{"type":"text","align":"left","baseline":"middle","font":"DejaVu Sans","fontSize":10.2,"fontWeight":"bold","color":"#333333"},
 "encoding":{
  "x":{"field":"t","type":"temporal","axis":{"orient":"top","offset":-298,"title":null,"labels":false,"grid":false,"domain":false,"tickCount":72,"tickColor":"#666666","tickSize":3}},
  "y":{"field":"flux","type":"quantitative","axis":{"orient":"right","offset":-899,"title":null,"labels":false,"grid":false,"domain":false,
    "values":[1e-9,1e-8,1e-7,1e-6,1e-5,1e-4,1e-3,1e-2],"tickColor":"#333333","tickSize":5}},
  "text":{"field":"label"}}},
{"data":{"name":"tipValue"},
 "mark":{"type":"text","align":"left","baseline":"middle","font":"DejaVu Sans","fontSize":10.2,"fontWeight":"normal","color":"#333333"},
 "encoding":{
  "x":{"field":"t","type":"temporal","axis":{"orient":"top","offset":-298,"title":null,"labels":false,"grid":false,"domain":false,
    "values":[{"year":2021,"month":3,"date":8,"hours":8,"utc":true},{"year":2021,"month":3,"date":8,"hours":16,"utc":true},{"year":2021,"month":3,"date":9,"hours":8,"utc":true},{"year":2021,"month":3,"date":9,"hours":16,"utc":true},{"year":2021,"month":3,"date":10,"hours":8,"utc":true},{"year":2021,"month":3,"date":10,"hours":16,"utc":true}],
    "tickColor":"#ccd6eb","tickSize":9}},
  "text":{"field":"label"}}},
{"data":{"name":"buttons"},
 "mark":{"type":"rect","cornerRadius":2},
 "encoding":{"x2":{"field":"t2"},"y2":{"field":"flux2"},
  "fill":{"condition":{"test":"datum.selected","value":"#e6ebf5"},"value":"#f7f7f7"}}},
{"data":{"name":"buttons"},
 "transform":[{"filter":"!datum.selected"}],
 "mark":{"type":"text","align":"center","baseline":"middle","font":"DejaVu Sans","fontSize":10.5,"color":"#333333"},
 "encoding":{"x":{"field":"tm","type":"temporal","axis":null},"y":{"field":"mid","type":"quantitative","axis":null},"text":{"field":"label"}}},
{"data":{"name":"buttons"},
 "transform":[{"filter":"datum.selected"}],
 "mark":{"type":"text","align":"center","baseline":"middle","font":"DejaVu Sans","fontSize":10.5,"fontWeight":"bold","color":"#000000"},
 "encoding":{"x":{"field":"tm","type":"temporal","axis":null},"y":{"field":"mid","type":"quantitative","axis":null},"text":{"field":"label"}}},
{"data":{"name":"zoomLabel"},
 "mark":{"type":"text","align":"center","baseline":"middle","font":"DejaVu Sans","fontSize":10.5,"color":"#666666"},
 "encoding":{"text":{"field":"label"}}},
{"data":{"name":"menu"},
 "mark":{"type":"rule","stroke":"#666666","strokeWidth":2.5},
 "encoding":{"x2":{"field":"t2"}}},
{"data":{"name":"heading"},
 "mark":{"type":"text","align":"center","baseline":"middle","font":"DejaVu Sans","fontSize":19,"color":"#333333"},
 "encoding":{"text":{"field":"label"}}},
{"data":{"name":"updated"},
 "mark":{"type":"text","align":"right","baseline":"middle","font":"DejaVu Sans","fontSize":12,"fontWeight":"bold","color":"#000000"},
 "encoding":{"text":{"field":"label"}}},
{"data":{"name":"credit"},
 "mark":{"type":"text","align":"right","baseline":"middle","font":"DejaVu Sans","fontSize":12.5,"color":"#000000"},
 "encoding":{"text":{"field":"label"}}}
]
}
